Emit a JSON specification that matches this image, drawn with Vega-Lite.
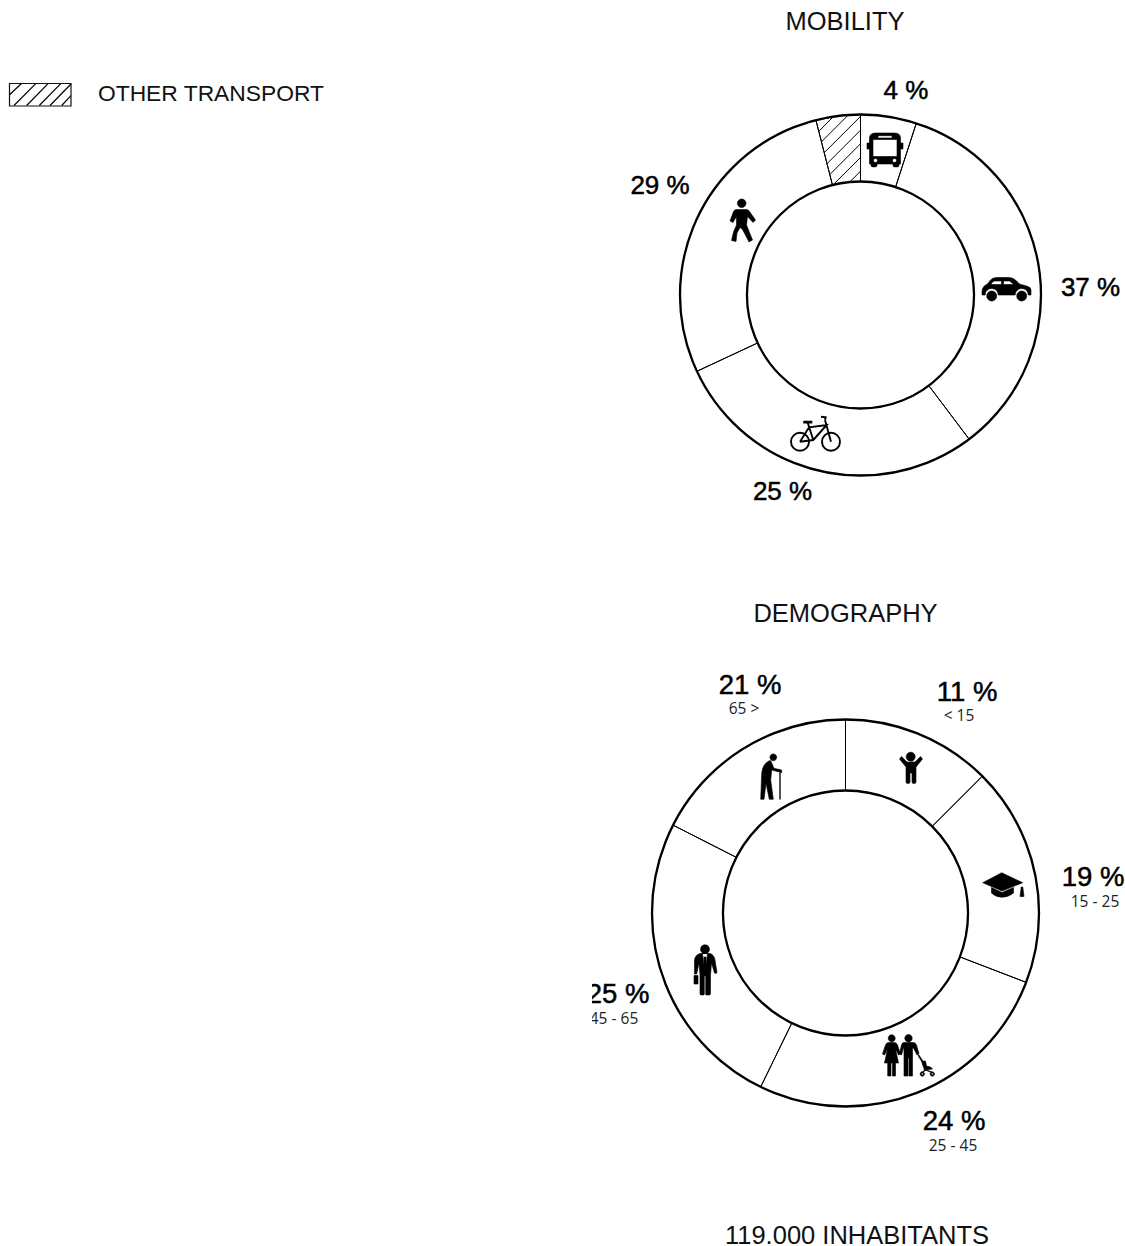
{
"$schema":"https://vega.github.io/schema/vega-lite/v6.json",
"padding":0,
"autosize":{"type":"pad","contains":"content"},
"background":"white",
"spacing":0,
"bounds":"flush",
"config":{"view":{"stroke":null},"concat":{"spacing":0}},
"datasets":{
"segments":[
{"chart":"MOBILITY","category":"bus","start":0,"end":18},
{"chart":"MOBILITY","category":"car","start":18,"end":143},
{"chart":"MOBILITY","category":"bicycle","start":143,"end":245},
{"chart":"MOBILITY","category":"walking","start":245,"end":345.7},
{"chart":"MOBILITY","category":"other transport","start":345.7,"end":360},
{"chart":"DEMOGRAPHY","category":"< 15","start":0,"end":45},
{"chart":"DEMOGRAPHY","category":"15 - 25","start":45,"end":111},
{"chart":"DEMOGRAPHY","category":"25 - 45","start":111,"end":206},
{"chart":"DEMOGRAPHY","category":"45 - 65","start":206,"end":297},
{"chart":"DEMOGRAPHY","category":"65 >","start":297,"end":360}
],
"labels":[
{"kind":"title","text":"MOBILITY","x":845,"y":30},
{"kind":"title","text":"DEMOGRAPHY","x":845.5,"y":622},
{"kind":"title","text":"119.000 INHABITANTS","x":857,"y":1244},
{"kind":"pctM","text":"4 %","x":906,"y":99},
{"kind":"pctM","text":"37 %","x":1090.5,"y":296},
{"kind":"pctM","text":"25 %","x":782.5,"y":500},
{"kind":"pctM","text":"29 %","x":660,"y":194},
{"kind":"pctD","text":"21 %","x":750,"y":694},
{"kind":"pctD","text":"11 %","x":967,"y":701},
{"kind":"pctD","text":"19 %","x":1093,"y":886},
{"kind":"pctD","text":"24 %","x":954,"y":1130},
{"kind":"pctD","text":"25 %","x":618,"y":1003},
{"kind":"range","text":"65 >","x":744,"y":714},
{"kind":"range","text":"< 15","x":959,"y":721},
{"kind":"range","text":"15 - 25","x":1095,"y":907},
{"kind":"range","text":"25 - 45","x":953,"y":1151},
{"kind":"range","text":"45 - 65","x":614,"y":1024}
],
"icons":[
{"icon":"bus","x":885,"y":150},
{"icon":"car","x":1006.5,"y":289},
{"icon":"walk","x":742,"y":220},
{"icon":"kid","x":911,"y":768},
{"icon":"cap","x":1003,"y":885},
{"icon":"family","x":908.5,"y":1055},
{"icon":"worker","x":705,"y":970},
{"icon":"elder","x":771.5,"y":777}
],
"hatch":[
{"x":818.8,"y":131.3,"x2":833.45,"y2":116.55},
{"x":821.4,"y":141.9,"x2":848.4,"y2":114.9},
{"x":824.2,"y":152.7,"x2":860.5,"y2":116.4},
{"x":827,"y":163.7,"x2":860.5,"y2":130.2},
{"x":829.8,"y":174.5,"x2":860.5,"y2":143.8},
{"x":833.1,"y":184.8,"x2":860.5,"y2":157.5},
{"x":849.7,"y":182,"x2":860.5,"y2":171.2}
],
"swatchHatch":[
{"x":9.3,"y":95,"x2":21.7,"y2":83.3},
{"x":14,"y":105.5,"x2":36,"y2":83.3},
{"x":26.7,"y":105.5,"x2":48.3,"y2":83.3},
{"x":39.3,"y":105.5,"x2":61,"y2":83.3},
{"x":50,"y":105.5,"x2":71,"y2":84},
{"x":61.7,"y":105.5,"x2":71,"y2":95.7}
]
},
"hconcat":[
{
"width":592,"height":1246,
"layer":[
{"data":{"name":"swatchHatch"},"mark":{"type":"rule","stroke":"#000","strokeWidth":1.2},
"encoding":{
"x":{"field":"x","type":"quantitative","scale":{"domain":[0,592],"nice":false,"zero":false},"axis":null},
"y":{"field":"y","type":"quantitative","scale":{"domain":[1246,0],"nice":false,"zero":false},"axis":null},
"x2":{"field":"x2"},"y2":{"field":"y2"}}},
{"data":{"values":[{"category":"OTHER TRANSPORT","x":9.5,"y":83.5,"x2":71,"y2":106}]},"mark":{"type":"rect","fill":"transparent","stroke":"#111","strokeWidth":1.2},
"encoding":{"x":{"field":"x","type":"quantitative"},"y":{"field":"y","type":"quantitative"},"x2":{"field":"x2"},"y2":{"field":"y2"}}},
{"data":{"values":[{"text":"OTHER TRANSPORT","x":98,"y":101}]},"mark":{"type":"text","font":"Liberation Sans","fontSize":22.8,"align":"left","baseline":"alphabetic","fill":"#111"},
"encoding":{"x":{"field":"x","type":"quantitative"},"y":{"field":"y","type":"quantitative"},"text":{"field":"text"}}}
]
},
{
"width":533,"height":1246,
"encoding":{
"x":{"type":"quantitative","scale":{"domain":[592,1125],"nice":false,"zero":false},"axis":null},
"y":{"type":"quantitative","scale":{"domain":[1246,0],"nice":false,"zero":false},"axis":null}
},
"layer":[
{"data":{"name":"hatch"},"mark":{"type":"rule","stroke":"#000","strokeWidth":1},
"encoding":{"x":{"field":"x","type":"quantitative"},"y":{"field":"y","type":"quantitative"},"x2":{"field":"x2"},"y2":{"field":"y2"}}},
{"data":{"name":"segments"},"transform":[{"filter":"datum.chart==='MOBILITY'"}],
"mark":{"type":"arc","radius":180.5,"radius2":113.5,"fill":"transparent","stroke":"#000","strokeWidth":1},
"encoding":{"x":{"datum":860.5,"type":"quantitative"},"y":{"datum":295,"type":"quantitative"},
"theta":{"field":"start","type":"quantitative","stack":null,"scale":{"domain":[0,360]}},"theta2":{"field":"end"}}},
{"data":{"name":"segments"},"transform":[{"filter":"datum.chart==='DEMOGRAPHY'"}],
"mark":{"type":"arc","radius":193.5,"radius2":122.5,"fill":"transparent","stroke":"#000","strokeWidth":1},
"encoding":{"x":{"datum":845.5,"type":"quantitative"},"y":{"datum":913,"type":"quantitative"},
"theta":{"field":"start","type":"quantitative","stack":null,"scale":{"domain":[0,360]}},"theta2":{"field":"end"}}},
{"data":{"values":[{"chart":"MOBILITY"}]},
"mark":{"type":"arc","radius":180.5,"radius2":113.5,"theta":0,"theta2":6.2832,"fill":"transparent","stroke":"#000","strokeWidth":2.3},
"encoding":{"x":{"datum":860.5,"type":"quantitative"},"y":{"datum":295,"type":"quantitative"}}},
{"data":{"values":[{"chart":"DEMOGRAPHY"}]},
"mark":{"type":"arc","radius":193.5,"radius2":122.5,"theta":0,"theta2":6.2832,"fill":"transparent","stroke":"#000","strokeWidth":2.3},
"encoding":{"x":{"datum":845.5,"type":"quantitative"},"y":{"datum":913,"type":"quantitative"}}},
{"data":{"name":"icons"},
"mark":{"type":"point","filled":true,"size":4,"opacity":1,"fill":"#000","stroke":"#000","strokeWidth":0.6},
"encoding":{"x":{"field":"x","type":"quantitative"},"y":{"field":"y","type":"quantitative"},
"shape":{"field":"icon","type":"nominal","legend":null,"scale":{
"domain":["bus","car","walk","kid","cap","family","worker","elder"],
"range":[
"M-15.5,-12Q-15.5,-17 -9,-17L9,-17Q15.5,-17 15.5,-12L15.5,14L-15.5,14ZM-12,-10.5L-12,6.5L12,6.5L12,-10.5ZM-7,-14.3L-7,-12L7,-12L7,-14.3ZM-11.5,10.5a2,2 0 1 0 4,0a2,2 0 1 0 -4,0ZM7.5,10.5a2,2 0 1 0 4,0a2,2 0 1 0 -4,0ZM-14,13L-8,13L-8,15.5Q-8,17 -11,17Q-14,17 -14,15.5ZM8,13L14,13L14,15.5Q14,17 11,17Q8,17 8,15.5ZM-18,-7L-15,-7L-15,-1L-18,-1ZM15,-7L18,-7L18,-1L15,-1Z",
"M-24.5,2Q-24,-3 -19,-5L-16,-9Q-14,-11.5 -10,-11.5L3,-11.5Q6,-11.5 9,-9L13,-5L20,-3Q24.5,-2 24.5,1L24.5,6L21.7,6A6.5,6.5 0 0 0 8.7,6L-8.3,6A6.5,6.5 0 0 0 -21.3,6L-24.5,6ZM-15.5,-4.5L-5,-4.5L-5,-8L-11,-8Q-13,-8 -14,-7ZM-3,-4.5L7.5,-4.5L3,-8L-3,-8ZM-19.8,7a5,5 0 1 0 10,0a5,5 0 1 0 -10,0ZM10.2,7a5,5 0 1 0 10,0a5,5 0 1 0 -10,0Z",
"M-4.6,-16.7a4.3,4.3 0 1 0 8.6,0a4.3,4.3 0 1 0 -8.6,0ZM-5.5,-10.5L4.5,-10.5Q6.5,-10.5 7.5,-8.5L13.5,0L11,2.5L5.5,-3.5L4.5,5L10.5,20L7,22L0.5,9.5L-2,7.5L-5,13L-6,21.5L-10.5,20.5L-8.5,12L-5.5,5L-5.5,-3.5L-9,2.5L-12,1L-8.5,-8.5Q-7.5,-10.5 -5.5,-10.5Z",
"M-4.8,-11.3a4.5,4.5 0 1 0 9,0a4.5,4.5 0 1 0 -9,0ZM-11.5,-9L-9.5,-11.5L-4,-6L4,-6L9.5,-11.5L11.5,-9L5,-1L5,14Q5,15.5 3,15.5Q1,15.5 1,14L1,5L-1,5L-1,14Q-1,15.5 -3,15.5Q-5,15.5 -5,14L-5,-1Z",
"M-1.3,-12.3L19.7,-2.3L-1,6L-20.3,-2.3ZM-11.5,2.5L-1,7.5L10.5,2.5L10.5,8Q5,12.3 -1,12.3Q-7,12.3 -11.5,8ZM17,11.5L17.7,6L18.2,2L19.8,2L20.3,6L21,11.5Z",
"M-20.3,-16.7a3.5,3.5 0 1 0 7,0a3.5,3.5 0 1 0 -7,0ZM-3.7,-16.7a3.7,3.7 0 1 0 7.4,0a3.7,3.7 0 1 0 -7.4,0ZM-20,-12.5L-14,-12.5Q-12,-12.5 -11,-10L-8,-1L-10,0L-13,-6L-10,8L-13,8L-13,21L-16,21L-16,8L-17.5,8L-17.5,21L-20.8,21L-20.8,8L-24,8L-21,-6L-24,0L-26,-1L-23,-10Q-22,-12.5 -20,-12.5ZM-5,-12.5L5,-12.5Q7,-12.5 8,-10L10.5,-1L8.5,0L5,-7L4,-7L4,21L0.5,21L0.5,3L-0.5,3L-0.5,21L-4.5,21L-4.5,-7L-5,-7L-7,0L-9,-1L-7,-10Q-6.5,-12.5 -5,-12.5ZM9.5,0.5L10.5,0L15,7L14,8ZM13.5,6L17,6L18,11L22,12L24,14L17,15L16,15L13.5,8ZM16.5,14.5L17.3,15L14.5,17.5L14,17ZM17,14.5L23.5,17L23,17.5L16.5,15ZM11.6,19a2.2,2.2 0 1 1 4.4,0a2.2,2.2 0 1 1 -4.4,0ZM12.8,19a1,1 0 1 0 2,0a1,1 0 1 0 -2,0ZM21.6,19a2.2,2.2 0 1 1 4.4,0a2.2,2.2 0 1 1 -4.4,0ZM22.8,19a1,1 0 1 0 2,0a1,1 0 1 0 -2,0Z",
"M-4.5,-20.7a4.5,4.5 0 1 0 9,0a4.5,4.5 0 1 0 -9,0ZM-5,-16.5L5,-16.5Q9,-15.5 10,-10L12,2.5Q11,4 9.5,3L6.5,-7L5.5,5L5.5,24Q5.5,25 3.5,25L1.3,25Q0.7,25 0.7,24L0.7,6L-0.7,6L-0.7,24Q-0.7,25 -1.5,25L-3.5,25Q-5,25 -5,24L-5,5L-6,-7L-8.3,4L-10.5,4L-10.5,-10Q-10,-15 -5,-16.5ZM-2.5,-16.5L-1,-5L-1,-13L1,-13L1,-5L2.5,-16.5ZM-11,5.5L-7,5.5L-7,14L-11,14Z",
"M-1.6,-19.7a3.4,3.4 0 1 0 6.8,0a3.4,3.4 0 1 0 -6.8,0ZM-2.2,-16.3L-0.8,-16.3L2.5,-8.7L10.2,-7L10.2,-4.3L0.2,-7L-0.8,3L1.8,22.3L-2.2,22.3L-5.5,6.3L-7.5,22.3L-10.8,22.3L-9.8,-3.7Q-9,-13 -2.2,-16.3ZM8.2,-4.3L8.8,-4.3L8.8,22.3L8.2,22.3Z"
]}}}},
{"data":{"values":[{"icon":"bicycle","x":816,"y":433}]},
"mark":{"type":"point","filled":false,"size":4,"opacity":1,"stroke":"#000","strokeWidth":1.9,
"shape":"M-25,8.7a9,9 0 1 0 18,0a9,9 0 1 0 -18,0ZM6,8.7a9,9 0 1 0 18,0a9,9 0 1 0 -18,0ZM-16,8.7L-7,-5.7L10.7,-8L-2.7,7L-16,8.7M-8.3,-10.3L-2.7,7M9,-13L15,8.7M5,-16.3L9.7,-15.7L9,-13M-12.7,-11.3L-3.7,-11.3M-12.7,-10.5L-3.7,-10.5"},
"encoding":{"x":{"field":"x","type":"quantitative"},"y":{"field":"y","type":"quantitative"}}},
{"data":{"name":"labels"},"transform":[{"filter":"datum.kind==='title'"}],
"mark":{"type":"text","font":"Liberation Sans","fontSize":25.5,"align":"center","baseline":"alphabetic","fill":"#111"},
"encoding":{"x":{"field":"x","type":"quantitative"},"y":{"field":"y","type":"quantitative"},"text":{"field":"text"}}},
{"data":{"name":"labels"},"transform":[{"filter":"datum.kind==='pctM'"}],
"mark":{"type":"text","font":"Liberation Sans","fontSize":26,"align":"center","baseline":"alphabetic","fill":"#000","stroke":"#000","strokeWidth":0.5,"clip":true},
"encoding":{"x":{"field":"x","type":"quantitative"},"y":{"field":"y","type":"quantitative"},"text":{"field":"text"}}},
{"data":{"name":"labels"},"transform":[{"filter":"datum.kind==='pctD'"}],
"mark":{"type":"text","font":"Liberation Sans","fontSize":27.5,"align":"center","baseline":"alphabetic","fill":"#000","stroke":"#000","strokeWidth":0.5,"clip":true},
"encoding":{"x":{"field":"x","type":"quantitative"},"y":{"field":"y","type":"quantitative"},"text":{"field":"text"}}},
{"data":{"name":"labels"},"transform":[{"filter":"datum.kind==='range'"}],
"mark":{"type":"text","font":"Open Sans","fontSize":15.5,"align":"center","baseline":"alphabetic","fill":"#222","clip":true},
"encoding":{"x":{"field":"x","type":"quantitative"},"y":{"field":"y","type":"quantitative"},"text":{"field":"text"}}}
]
}
]
}
